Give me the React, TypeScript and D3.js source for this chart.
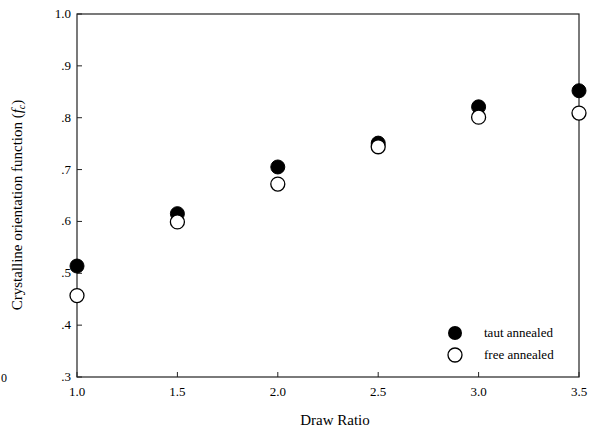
import * as d3 from "d3";

const drawRatio = [1.0, 1.5, 2.0, 2.5, 3.0, 3.5];
const tautAnnealed = [0.514, 0.615, 0.705, 0.751, 0.821, 0.852];
const freeAnnealed = [0.457, 0.599, 0.672, 0.744, 0.801, 0.809];
const xTicks = [1.0, 1.5, 2.0, 2.5, 3.0, 3.5];
const yTicks = [0.3, 0.4, 0.5, 0.6, 0.7, 0.8, 0.9, 1.0];
const yTickLabels = [".3", ".4", ".5", ".6", ".7", ".8", ".9", "1.0"];

const width = 600;
const height = 433;
const margin = { top: 14, right: 21, bottom: 56, left: 77 };
const font = "'Liberation Serif', 'DejaVu Serif', serif";

export default function App() {
  const x = d3.scaleLinear().domain([1.0, 3.5]).range([margin.left, width - margin.right]);
  const y = d3.scaleLinear().domain([0.3, 1.0]).range([height - margin.bottom, margin.top]);
  const x0 = x.range()[0], x1 = x.range()[1];
  const y0 = y.range()[0], y1 = y.range()[1];

  return (
    <svg width={width} height={height} style={{ position: "absolute", left: 0, top: 0, background: "#fff" }}>
      <rect x={x0} y={y1} width={x1 - x0} height={y0 - y1} fill="none" stroke="#222" strokeWidth={1.2} />
      {yTicks.map((t, i) => (
        <g key={"y" + i}>
          <line x1={x0} x2={x0 + 5} y1={y(t)} y2={y(t)} stroke="#222" />
          <text x={x0 - 6} y={y(t) + 4} textAnchor="end" fontFamily={font} fontSize={13}>
            {yTickLabels[i]}
          </text>
        </g>
      ))}
      {xTicks.map((t, i) => (
        <g key={"x" + i}>
          <line x1={x(t)} x2={x(t)} y1={y0} y2={y0 - 5} stroke="#222" />
          <text x={x(t)} y={y0 + 19} textAnchor="middle" fontFamily={font} fontSize={13}>
            {d3.format(".1f")(t)}
          </text>
        </g>
      ))}
      <text x={1} y={y0 + 5} fontFamily={font} fontSize={12}>0</text>
      <text x={335} y={height - 8} textAnchor="middle" fontFamily={font} fontSize={15}>
        Draw Ratio
      </text>
      <text
        transform={`translate(22, 205) rotate(-90)`}
        textAnchor="middle"
        fontFamily={font}
        fontSize={15}
      >
        Crystalline orientation function (<tspan fontStyle="italic">f</tspan>
        <tspan fontStyle="italic" fontSize={10} dy={3}>c</tspan>
        <tspan dy={-3}>)</tspan>
      </text>
      {drawRatio.map((d, i) => (
        <circle key={"t" + i} cx={x(d)} cy={y(tautAnnealed[i])} r={7} fill="#000" stroke="#000" />
      ))}
      {drawRatio.map((d, i) => (
        <circle key={"f" + i} cx={x(d)} cy={y(freeAnnealed[i])} r={7} fill="#fff" stroke="#000" strokeWidth={1.3} />
      ))}
      <circle cx={455} cy={333} r={7} fill="#000" />
      <text x={484} y={337} fontFamily={font} fontSize={13}>taut annealed</text>
      <circle cx={455} cy={355} r={7} fill="#fff" stroke="#000" strokeWidth={1.3} />
      <text x={484} y={359} fontFamily={font} fontSize={13}>free annealed</text>
    </svg>
  );
}
